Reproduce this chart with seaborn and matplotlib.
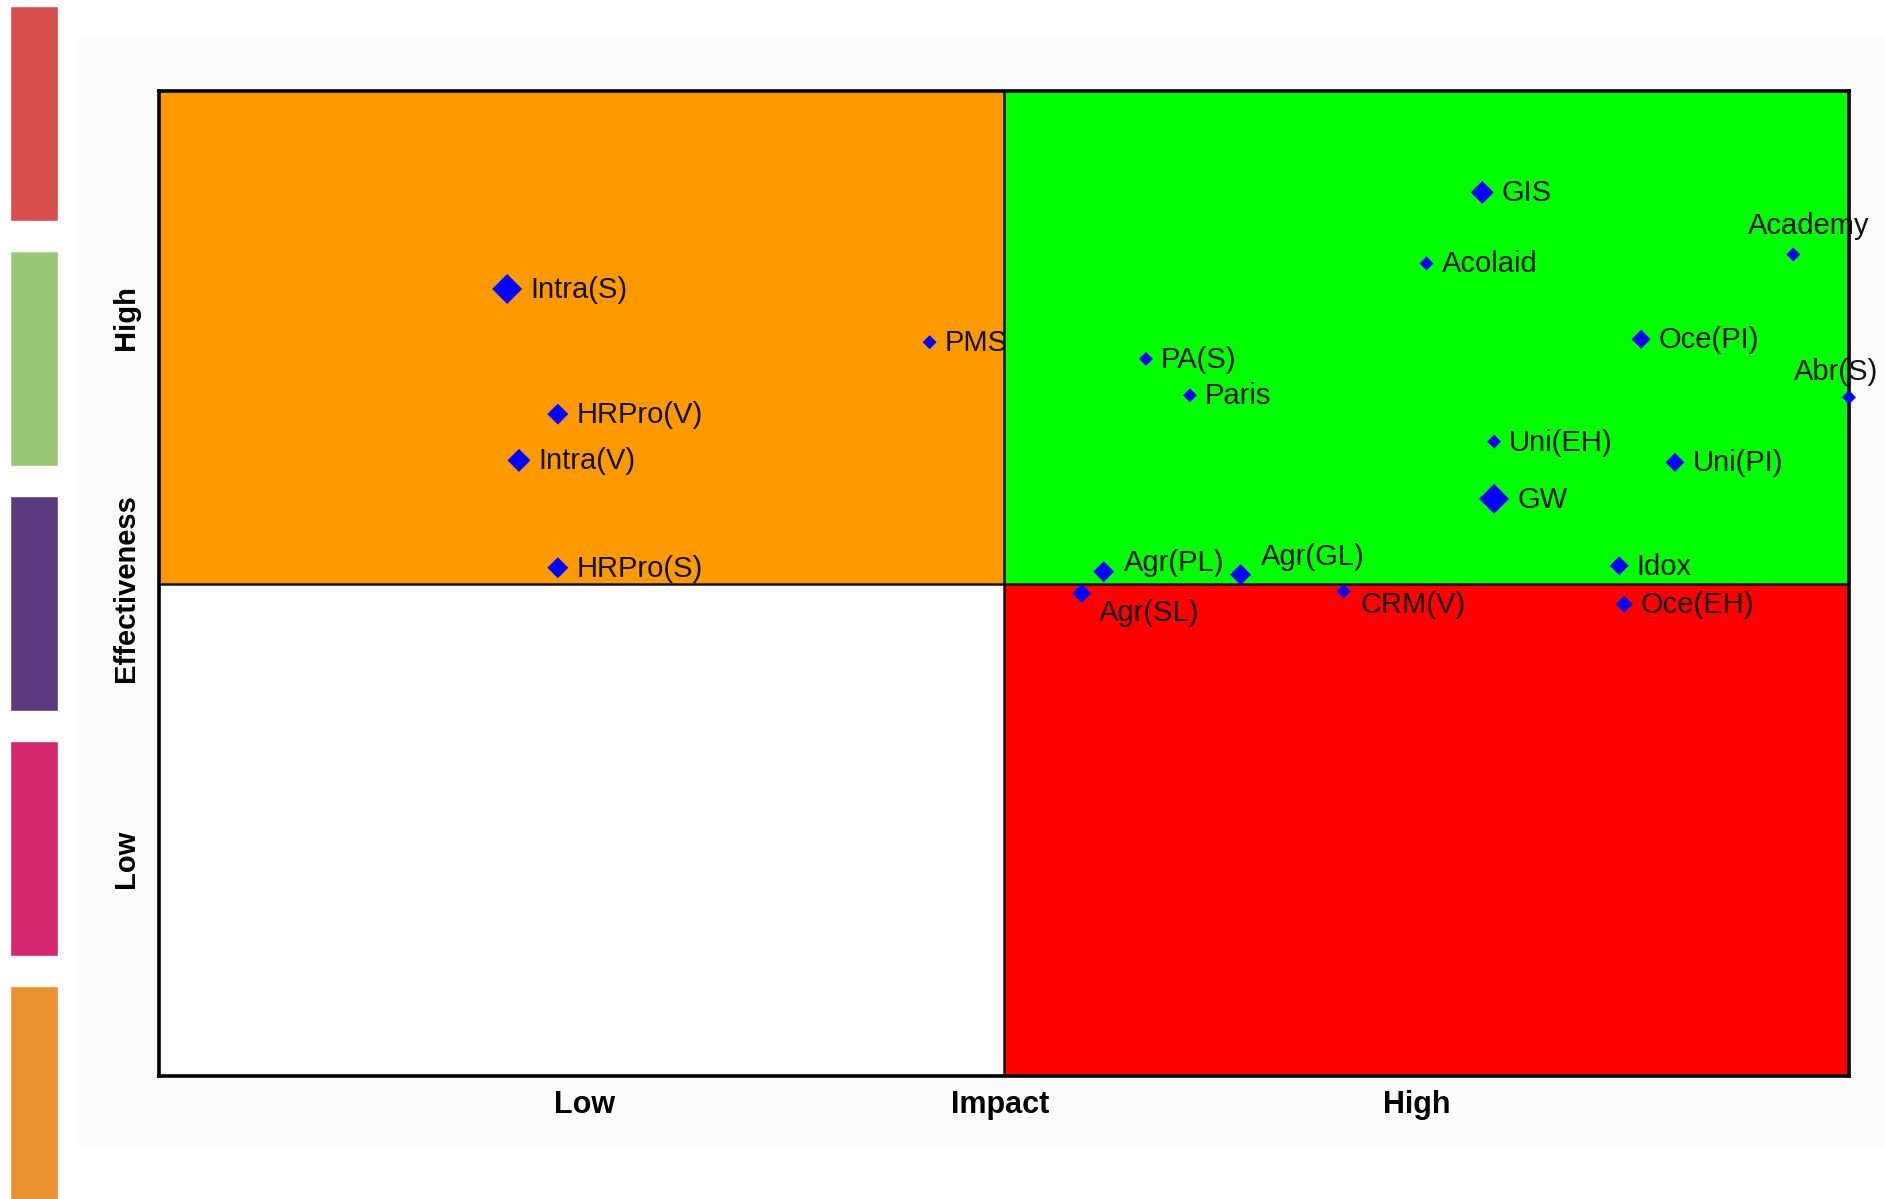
import numpy as np
import pandas as pd
import matplotlib
matplotlib.use("Agg")
import matplotlib.pyplot as plt
import matplotlib.transforms as mtransforms
import seaborn as sns

# ---------------- data ----------------
names = ["Intra(S)", "PMS", "HRPro(V)", "Intra(V)", "HRPro(S)", "GIS", "Acolaid",
         "Academy", "Oce(PI)", "Abr(S)", "PA(S)", "Paris", "Uni(EH)", "Uni(PI)",
         "GW", "Agr(PL)", "Agr(GL)", "Idox", "Agr(SL)", "CRM(V)", "Oce(EH)"]
impact = [20.6, 45.6, 23.6, 21.3, 23.6, 78.3, 75.0,
          96.7, 87.7, 100.0, 58.4, 61.0, 79.0, 89.7,
          79.0, 55.9, 64.0, 86.4, 54.6, 70.1, 86.7]
effectiveness = [79.9, 74.5, 67.2, 62.5, 51.6, 89.7, 82.5,
                 83.4, 74.8, 68.9, 72.8, 69.1, 64.4, 62.3,
                 58.6, 51.2, 50.9, 51.8, 49.0, 49.2, 47.9]
weight = [6, 1, 4, 5, 4, 5, 1,
          1, 3, 1, 1, 1, 1, 3,
          6, 4, 4, 3, 3, 1, 2]

x_tick_labels = ["Low", "Impact", "High"]
y_tick_labels = ["Low", "Effectiveness", "High"]
quadrant_colors = {"top_left": "#FF9900", "top_right": "#00FF00",
                   "bottom_left": "#FDFDFD", "bottom_right": "#FF0000"}
band_colors = ["#DA4D4D", "#98C675", "#5B3A7D", "#D3276E", "#E8922F"]

# ---------------- style ----------------
sns.set_theme(style="white")
plt.rcParams["font.family"] = ["Liberation Sans", "DejaVu Sans"]

W, H = 1885, 1199
DPI = 100
fig = plt.figure(figsize=(W / DPI, H / DPI), dpi=DPI)
fig.patch.set_facecolor("white")

# faint background panel
pax = fig.add_axes([78 / W, (H - 1150) / H, (W - 78) / W, (1150 - 36) / H], zorder=-5)
pax.set_facecolor("#FCFCFC")
pax.set_xticks([])
pax.set_yticks([])
for s in pax.spines.values():
    s.set_visible(False)

# left colour bands
bax = fig.add_axes([10 / W, 0, 48 / W, 1])
bax.barh(y=np.arange(len(band_colors)), width=1, height=215 / 245,
         color=band_colors, left=0)
bax.set_xlim(0, 1)
bax.set_ylim((H - 113.5) / 245, -113.5 / 245)
bax.axis("off")

# main axes
ax = fig.add_axes([159 / W, (H - 1076) / H, 1690 / W, 985 / H], zorder=2)
ax.set_xlim(0, 100)
ax.set_ylim(0, 100)

ax.fill_between([0, 50], 50, 100, color=quadrant_colors["top_left"], lw=0, zorder=0)
ax.fill_between([50, 100], 50, 100, color=quadrant_colors["top_right"], lw=0, zorder=0)
ax.fill_between([0, 50], 0, 50, color=quadrant_colors["bottom_left"], lw=0, zorder=0)
ax.fill_between([50, 100], 0, 50, color=quadrant_colors["bottom_right"], lw=0, zorder=0)
ax.axvline(50, color="#111111", lw=1.8, zorder=1)
ax.axhline(50, color="#111111", lw=1.8, zorder=1)

df = pd.DataFrame({"name": names, "impact": impact,
                   "effectiveness": effectiveness, "weight": weight})

extent_px = {1: 14, 2: 17, 3: 19, 4: 21, 5: 23, 6: 30}
size_map = {k: (v * 0.72 / 1.4142) ** 2 for k, v in extent_px.items()}

sns.scatterplot(data=df, x="impact", y="effectiveness", size="weight",
                sizes=size_map, marker="D", color="#0000FF", linewidth=0,
                legend=False, ax=ax, clip_on=False, zorder=5)

label_offsets = {"Academy": (-45, 29), "Abr(S)": (-55, 25), "Agr(PL)": (20, 9),
                 "Agr(GL)": (20, 18), "Agr(SL)": (17, -20), "CRM(V)": (17, -14)}

for n, xv, yv, wv in zip(names, impact, effectiveness, weight):
    if n in label_offsets:
        dx, dy = label_offsets[n]
    else:
        dx, dy = extent_px[wv] / 2 + 8, -1
    ax.annotate(n, (xv, yv), xytext=(dx * 0.72, dy * 0.72),
                textcoords="offset points", ha="left", va="center",
                fontsize=21, color="#111111", annotation_clip=False, zorder=6)

ax.set_xlabel("")
ax.set_ylabel("")
ax.set_xticks([25.2, 49.8, 74.4])
ax.set_xticklabels(x_tick_labels, fontsize=22, fontweight="bold", color="black")
ax.tick_params(axis="x", length=0, pad=10)
ax.set_yticks([])

trans = mtransforms.blended_transform_factory(ax.transAxes, ax.transData)
for yv, lab in zip([22, 49.5, 77], y_tick_labels):
    ax.text(-0.0195, yv, lab, transform=trans, rotation=90, ha="center",
            va="center", fontsize=21, fontweight="bold", color="black")

for s in ax.spines.values():
    s.set_visible(True)
    s.set_color("black")
    s.set_linewidth(2.6)
    s.set_zorder(4)

fig.savefig("out.png", dpi=DPI, facecolor="white")
